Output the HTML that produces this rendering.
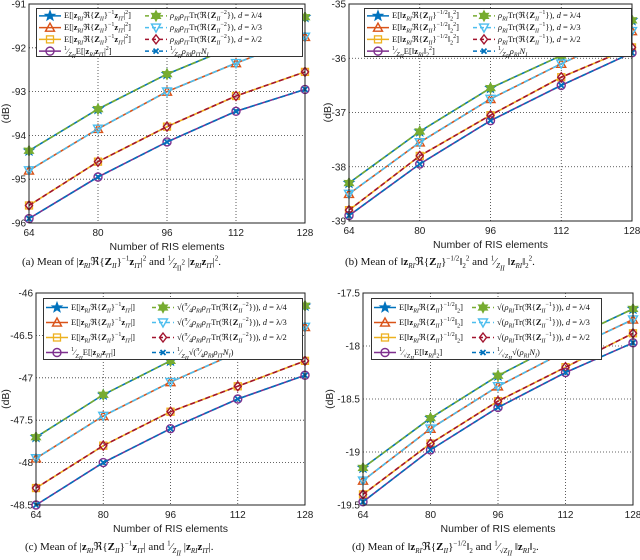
<!DOCTYPE html>
<html><head><meta charset="utf-8"><style>
body{margin:0;width:640px;height:560px;background:#fff;position:relative;overflow:hidden;font-family:"Liberation Sans",sans-serif}
svg{position:absolute;left:0;top:0}
.leg{position:absolute;background:#fff;border:1px solid #333;box-sizing:border-box}
.lt{position:absolute;font-family:"Liberation Serif",serif;font-size:8.5px;white-space:nowrap;line-height:10px;color:#111}
.lt sub,.lt sup{font-size:6px;line-height:0}
.cap{position:absolute;font-family:"Liberation Serif",serif;font-size:11px;white-space:nowrap;color:#111}
.cap sub,.cap sup{font-size:7px;line-height:0}
</style></head><body>
<svg id="chart" width="640" height="560"></svg>
<div id="legends"></div>
<div class="cap" style="left:22px;top:255px">(a) Mean of |<b>z</b><sub><i>RI</i></sub>ℜ{<b>Z</b><sub><i>II</i></sub>}<sup>−1</sup><b>z</b><sub><i>IT</i></sub>|<sup>2</sup> and <sup>1</sup>⁄<sub><i>Z</i><sub>II</sub><sup>2</sup></sub> |<b>z</b><sub><i>RI</i></sub><b>z</b><sub><i>IT</i></sub>|<sup>2</sup>.</div>
<div class="cap" style="left:345px;top:255px">(b) Mean of ‖<b>z</b><sub><i>RI</i></sub>ℜ{<b>Z</b><sub><i>II</i></sub>}<sup>−1/2</sup>‖<sub>2</sub><sup>2</sup> and <sup>1</sup>⁄<sub><i>Z<sub>II</sub></i></sub> ‖<b>z</b><sub><i>RI</i></sub>‖<sub>2</sub><sup>2</sup>.</div>
<div class="cap" style="left:25px;top:540px">(c) Mean of |<b>z</b><sub><i>RI</i></sub>ℜ{<b>Z</b><sub><i>II</i></sub>}<sup>−1</sup><b>z</b><sub><i>IT</i></sub>| and <sup>1</sup>⁄<sub><i>Z<sub>II</sub></i></sub> |<b>z</b><sub><i>RI</i></sub><b>z</b><sub><i>IT</i></sub>|.</div>
<div class="cap" style="left:352px;top:540px">(d) Mean of ‖<b>z</b><sub><i>RI</i></sub>ℜ{<b>Z</b><sub><i>II</i></sub>}<sup>−1/2</sup>‖<sub>2</sub> and <sup>1</sup>⁄<sub>√<i>Z<sub>II</sub></i></sub> ‖<b>z</b><sub><i>RI</i></sub>‖<sub>2</sub>.</div>
<script>
const xVals=[64,80,96,112,128];
const xTickLabels=["64","80","96","112","128"];
const aS1=[-94.35,-93.4,-92.6,-91.95,-91.3];
const aS2=[-94.8,-93.85,-93.0,-92.35,-91.75];
const aS3=[-95.6,-94.6,-93.8,-93.1,-92.55];
const aS4=[-95.9,-94.95,-94.15,-93.45,-92.95];
const aTicks=[-91,-92,-93,-94,-95,-96];
const bS1=[-38.3,-37.35,-36.55,-35.95,-35.3];
const bS2=[-38.5,-37.55,-36.75,-36.1,-35.5];
const bS3=[-38.8,-37.8,-37.05,-36.35,-35.8];
const bS4=[-38.9,-37.95,-37.15,-36.5,-35.9];
const bTicks=[-35,-36,-37,-38,-39];
const cS1=[-47.7,-47.2,-46.8,-46.45,-46.15];
const cS2=[-47.95,-47.45,-47.05,-46.7,-46.4];
const cS3=[-48.3,-47.8,-47.4,-47.1,-46.8];
const cS4=[-48.5,-48.0,-47.6,-47.25,-46.97];
const cTicks=[-46,-46.5,-47,-47.5,-48,-48.5];
const dS1=[-19.15,-18.68,-18.28,-17.95,-17.65];
const dS2=[-19.27,-18.78,-18.38,-18.05,-17.75];
const dS3=[-19.4,-18.92,-18.52,-18.2,-17.88];
const dS4=[-19.47,-18.98,-18.58,-18.25,-17.97];
const dTicks=[-17.5,-18,-18.5,-19,-19.5];

const NS="http://www.w3.org/2000/svg";
const svg=document.getElementById("chart");
function mk(tag,attrs,parent){const e=document.createElementNS(NS,tag);for(const k in attrs)e.setAttribute(k,attrs[k]);(parent||svg).appendChild(e);return e;}

const C={blue:"#0072BD",orange:"#D95319",yellow:"#EDB120",purple:"#7E2F8E",green:"#77AC30",cyan:"#4DBEEE",red:"#A2142F"};

function starPts(cx,cy,n,ro,ri,rot){let p=[];for(let i=0;i<2*n;i++){const r=i%2?ri:ro;const a=rot+Math.PI*i/n;p.push((cx+r*Math.sin(a)).toFixed(2)+","+(cy-r*Math.cos(a)).toFixed(2));}return p.join(" ");}
function marker(type,cx,cy,col,parent){
  let e;const s=4.5;
  if(type==="star")e=mk("polygon",{points:starPts(cx,cy,5,5.5,2.3,0),fill:col,stroke:col,"stroke-width":0.8},parent);
  else if(type==="tri")e=mk("polygon",{points:`${cx},${cy-s} ${cx+s},${cy+s*0.8} ${cx-s},${cy+s*0.8}`,fill:"none",stroke:col,"stroke-width":1.4},parent);
  else if(type==="sq")e=mk("rect",{x:cx-3.5,y:cy-3.5,width:7,height:7,fill:"none",stroke:col,"stroke-width":1.3},parent);
  else if(type==="circ")e=mk("circle",{cx:cx,cy:cy,r:4,fill:"none",stroke:col,"stroke-width":1.4},parent);
  else if(type==="hex")e=mk("polygon",{points:starPts(cx,cy,6,5.5,3,0),fill:col,stroke:col,"stroke-width":0.8},parent);
  else if(type==="tdown")e=mk("polygon",{points:`${cx},${cy+s} ${cx+s},${cy-s*0.8} ${cx-s},${cy-s*0.8}`,fill:"none",stroke:col,"stroke-width":1.4},parent);
  else if(type==="dia")e=mk("polygon",{points:`${cx},${cy-4.5} ${cx+3.5},${cy} ${cx},${cy+4.5} ${cx-3.5},${cy}`,fill:"none",stroke:col,"stroke-width":1.4},parent);
  else e=mk("path",{d:`M${cx-2.5},${cy-2.5}L${cx+2.5},${cy+2.5}M${cx+2.5},${cy-2.5}L${cx-2.5},${cy+2.5}`,stroke:col,"stroke-width":1.8,fill:"none"},parent);
  return e;
}

const styles=[
 {col:C.blue,m:"star",dash:null},{col:C.orange,m:"tri",dash:null},{col:C.yellow,m:"sq",dash:null},{col:C.purple,m:"circ",dash:null},
 {col:C.green,m:"hex",dash:"5,3"},{col:C.cyan,m:"tdown",dash:"5,3"},{col:C.red,m:"dia",dash:"5,3"},{col:C.blue,m:"x",dash:"5,3"}
];

const panels=[
 {id:"a",L:29,R:305,T:4,B:223,yMax:-91,yMin:-96,ticks:aTicks,series:[aS1,aS2,aS3,aS4],ylx:9,leg:{x:36,y:8,w:267,h:49,cx:108},
  lt:["E[|<b>z</b><sub><i>RI</i></sub>ℜ{<b>Z</b><sub><i>II</i></sub>}<sup>−1</sup><b>z</b><sub><i>IT</i></sub>|<sup>2</sup>]","E[|<b>z</b><sub><i>RI</i></sub>ℜ{<b>Z</b><sub><i>II</i></sub>}<sup>−1</sup><b>z</b><sub><i>IT</i></sub>|<sup>2</sup>]","E[|<b>z</b><sub><i>RI</i></sub>ℜ{<b>Z</b><sub><i>II</i></sub>}<sup>−1</sup><b>z</b><sub><i>IT</i></sub>|<sup>2</sup>]","<sup>1</sup>⁄<sub><i>Z<sub>II</sub></i></sub>E[|<b>z</b><sub><i>RI</i></sub><b>z</b><sub><i>IT</i></sub>|<sup>2</sup>]"],
  rt:["<i>ρ<sub>RI</sub>ρ<sub>IT</sub></i>Tr(ℜ{<b>Z</b><sub><i>II</i></sub><sup>−2</sup>}), <i>d</i> = λ/4","<i>ρ<sub>RI</sub>ρ<sub>IT</sub></i>Tr(ℜ{<b>Z</b><sub><i>II</i></sub><sup>−2</sup>}), <i>d</i> = λ/3","<i>ρ<sub>RI</sub>ρ<sub>IT</sub></i>Tr(ℜ{<b>Z</b><sub><i>II</i></sub><sup>−2</sup>}), <i>d</i> = λ/2","<sup>1</sup>⁄<sub><i>Z<sub>II</sub></i></sub><i>ρ<sub>RI</sub>ρ<sub>IT</sub>N<sub>I</sub></i>"]},
 {id:"b",L:349,R:632,T:4,B:221,yMax:-35,yMin:-39,ticks:bTicks,series:[bS1,bS2,bS3,bS4],ylx:331,leg:{x:364,y:8,w:268,h:49,cx:108},
  lt:["E[‖<b>z</b><sub><i>RI</i></sub>ℜ{<b>Z</b><sub><i>II</i></sub>}<sup>−1/2</sup>‖<sub>2</sub><sup>2</sup>]","E[‖<b>z</b><sub><i>RI</i></sub>ℜ{<b>Z</b><sub><i>II</i></sub>}<sup>−1/2</sup>‖<sub>2</sub><sup>2</sup>]","E[‖<b>z</b><sub><i>RI</i></sub>ℜ{<b>Z</b><sub><i>II</i></sub>}<sup>−1/2</sup>‖<sub>2</sub><sup>2</sup>]","<sup>1</sup>⁄<sub><i>Z<sub>II</sub></i></sub>E[‖<b>z</b><sub><i>RI</i></sub>‖<sub>2</sub><sup>2</sup>]"],
  rt:["<i>ρ<sub>RI</sub></i>Tr(ℜ{<b>Z</b><sub><i>II</i></sub><sup>−1</sup>}), <i>d</i> = λ/4","<i>ρ<sub>RI</sub></i>Tr(ℜ{<b>Z</b><sub><i>II</i></sub><sup>−1</sup>}), <i>d</i> = λ/3","<i>ρ<sub>RI</sub></i>Tr(ℜ{<b>Z</b><sub><i>II</i></sub><sup>−1</sup>}), <i>d</i> = λ/2","<sup>1</sup>⁄<sub><i>Z<sub>II</sub></i></sub><i>ρ<sub>RI</sub>N<sub>I</sub></i>"]},
 {id:"c",L:36,R:305,T:293,B:505,yMax:-46,yMin:-48.5,ticks:cTicks,series:[cS1,cS2,cS3,cS4],ylx:9,leg:{x:43,y:298,w:260,h:62,cx:108},
  lt:["E[|<b>z</b><sub><i>RI</i></sub>ℜ{<b>Z</b><sub><i>II</i></sub>}<sup>−1</sup><b>z</b><sub><i>IT</i></sub>|]","E[|<b>z</b><sub><i>RI</i></sub>ℜ{<b>Z</b><sub><i>II</i></sub>}<sup>−1</sup><b>z</b><sub><i>IT</i></sub>|]","E[|<b>z</b><sub><i>RI</i></sub>ℜ{<b>Z</b><sub><i>II</i></sub>}<sup>−1</sup><b>z</b><sub><i>IT</i></sub>|]","<sup>1</sup>⁄<sub><i>Z<sub>II</sub></i></sub>E[|<b>z</b><sub><i>RI</i></sub><b>z</b><sub><i>IT</i></sub>|]"],
  rt:["√(<sup>π</sup>⁄<sub>4</sub><i>ρ<sub>RI</sub>ρ<sub>IT</sub></i>Tr(ℜ{<b>Z</b><sub><i>II</i></sub><sup>−2</sup>})), <i>d</i> = λ/4","√(<sup>π</sup>⁄<sub>4</sub><i>ρ<sub>RI</sub>ρ<sub>IT</sub></i>Tr(ℜ{<b>Z</b><sub><i>II</i></sub><sup>−2</sup>})), <i>d</i> = λ/3","√(<sup>π</sup>⁄<sub>4</sub><i>ρ<sub>RI</sub>ρ<sub>IT</sub></i>Tr(ℜ{<b>Z</b><sub><i>II</i></sub><sup>−2</sup>})), <i>d</i> = λ/2","<sup>1</sup>⁄<sub><i>Z<sub>II</sub></i></sub>√(<sup>π</sup>⁄<sub>4</sub><i>ρ<sub>RI</sub>ρ<sub>IT</sub>N<sub>I</sub></i>)"]},
 {id:"d",L:363,R:633,T:293,B:505,yMax:-17.5,yMin:-19.5,ticks:dTicks,series:[dS1,dS2,dS3,dS4],ylx:333,leg:{x:371,y:298,w:231,h:62,cx:100},
  lt:["E[‖<b>z</b><sub><i>RI</i></sub>ℜ{<b>Z</b><sub><i>II</i></sub>}<sup>−1/2</sup>‖<sub>2</sub>]","E[‖<b>z</b><sub><i>RI</i></sub>ℜ{<b>Z</b><sub><i>II</i></sub>}<sup>−1/2</sup>‖<sub>2</sub>]","E[‖<b>z</b><sub><i>RI</i></sub>ℜ{<b>Z</b><sub><i>II</i></sub>}<sup>−1/2</sup>‖<sub>2</sub>]","<sup>1</sup>⁄<sub>√<i>Z<sub>II</sub></i></sub>E[‖<b>z</b><sub><i>RI</i></sub>‖<sub>2</sub>]"],
  rt:["√(<i>ρ<sub>RI</sub></i>Tr(ℜ{<b>Z</b><sub><i>II</i></sub><sup>−1</sup>})), <i>d</i> = λ/4","√(<i>ρ<sub>RI</sub></i>Tr(ℜ{<b>Z</b><sub><i>II</i></sub><sup>−1</sup>})), <i>d</i> = λ/3","√(<i>ρ<sub>RI</sub></i>Tr(ℜ{<b>Z</b><sub><i>II</i></sub><sup>−1</sup>})), <i>d</i> = λ/2","<sup>1</sup>⁄<sub>√<i>Z<sub>II</sub></i></sub>√(<i>ρ<sub>RI</sub>N<sub>I</sub></i>)"]}
];

const legRoot=document.getElementById("legends");
panels.forEach(p=>{
  const g=mk("g",{});
  
  
  const xS=v=>p.L+(v-xVals[0])/(xVals[xVals.length-1]-xVals[0])*(p.R-p.L);
  const yS=v=>p.T+(p.yMax-v)/(p.yMax-p.yMin)*(p.B-p.T);
  mk("rect",{x:p.L,y:p.T,width:p.R-p.L,height:p.B-p.T,fill:"#fff"},g);
  xVals.forEach((v,i)=>{
    if(i>0&&i<xVals.length-1){const l=mk("line",{x1:xS(v),x2:xS(v),y1:p.T,y2:p.B,stroke:"#333","stroke-width":0.8,"stroke-dasharray":"1,2"},g);
    
    }
    const t=mk("text",{x:xS(v),y:p.B+13,"text-anchor":"middle","font-size":"10","fill":"#222","font-family":"Liberation Sans"},g);
    t.textContent=xTickLabels[i];
    
    
  });
  p.ticks.forEach(v=>{
    const y=yS(v);
    if(Math.abs(y-p.T)>1&&Math.abs(y-p.B)>1){const l=mk("line",{x1:p.L,x2:p.R,y1:y,y2:y,stroke:"#333","stroke-width":0.8,"stroke-dasharray":"1,2"},g);
    
    }
    const t=mk("text",{x:p.L-3,y:y+3.5,"text-anchor":"end","font-size":"10","fill":"#222","font-family":"Liberation Sans"},g);
    t.textContent=String(v);
    
    
  });
  const xl=mk("text",{x:(p.L+p.R)/2,y:p.B+27,"text-anchor":"middle","font-size":"10.5","fill":"#222","font-family":"Liberation Sans"},g);
  xl.textContent="Number of RIS elements";
  
  
  const yl=mk("text",{x:0,y:0,transform:`translate(${p.ylx},${(p.T+p.B)/2}) rotate(-90)`,"text-anchor":"middle","font-size":"10.5","fill":"#222","font-family":"Liberation Sans"},g);
  yl.textContent="(dB)";
  
  
  styles.forEach((st,k)=>{
    const data=p.series[k%4];
    const pts=xVals.map((x,i)=>xS(x).toFixed(2)+","+yS(data[i]).toFixed(2)).join(" ");
    const pl=mk("polyline",{points:pts,fill:"none",stroke:st.col,"stroke-width":1.6},g);
    if(st.dash)pl.setAttribute("stroke-dasharray",st.dash);
    
    
    xVals.forEach((x,i)=>{
      const m=marker(st.m,xS(x),yS(data[i]),st.col,g);
      
      
    });
  });
  const box=mk("rect",{x:p.L,y:p.T,width:p.R-p.L,height:p.B-p.T,fill:"none",stroke:"#222","stroke-width":1},g);
  
  
  const lg=p.leg;
  const d=document.createElement("div");
  d.className="leg";
  d.style.cssText=`left:${lg.x}px;top:${lg.y}px;width:${lg.w}px;height:${lg.h}px`;
  
  
  const ls=document.createElementNS(NS,"svg");
  ls.setAttribute("width",lg.w);ls.setAttribute("height",lg.h);
  ls.style.cssText="position:absolute;left:0;top:0";
  d.appendChild(ls);
  const rh=(lg.h-2)/4;
  styles.forEach((st,k)=>{
    const col=k<4?0:1, row=k%4;
    const x0=col?lg.cx:2, y=rh*(row+0.5)+1;
    const l=mk("line",{x1:x0,x2:x0+22,y1:y,y2:y,stroke:st.col,"stroke-width":1.6},ls);
    if(st.dash)l.setAttribute("stroke-dasharray","4,3");
    
    
    marker(st.m,x0+11,y,st.col,ls);
    const t=document.createElement("div");
    t.className="lt";
    t.style.left=(x0+25)+"px";t.style.top=(y-5.5)+"px";
    t.innerHTML=(col?p.rt:p.lt)[row];
    
    
    d.appendChild(t);
  });
  legRoot.appendChild(d);
});
</script>
</body></html>
